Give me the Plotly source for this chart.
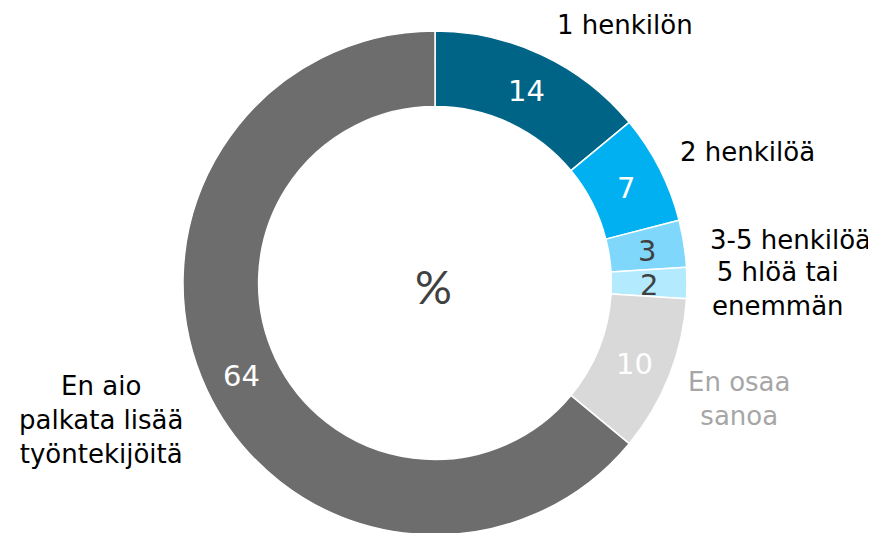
import math
import plotly.graph_objects as go

categories = ["1 henkilön", "2 henkilöä", "3-5 henkilöä", "5 hlöä tai<br>enemmän",
              "En osaa<br>sanoa", "En aio<br>palkata lisää<br>työntekijöitä"]
values = [14, 7, 3, 2, 10, 64]
colors = ["#006487", "#00B0F0", "#7FD8FC", "#B3EAFD", "#D9D9D9", "#6D6D6D"]
text_colors = ["white", "white", "#404040", "#404040", "white", "white"]
label_colors = ["black", "black", "black", "black", "#A6A6A6", "black"]
label_pos = [(625, 25), (747, 152), (790, 240), (778, 289), (739, 399), (101, 420)]

W, H = 876, 533
OFF = 8  # page body margin
CX, CY, R = 435 - OFF, 283 - OFF, 252
HOLE = 0.70

fig = go.Figure(go.Pie(
    labels=categories,
    values=values,
    hole=HOLE,
    sort=False,
    direction="clockwise",
    rotation=0,
    marker=dict(colors=colors, line=dict(color="white", width=1.5)),
    textinfo="none",
    domain=dict(x=[(CX - R) / W, (CX + R) / W], y=[(H - CY - R) / H, (H - CY + R) / H]),
    showlegend=False,
    hoverinfo="label+value",
))

annotations = []
# value labels at the middle of each ring segment
total = sum(values)
rmid = R * (1 + HOLE) / 2
cum = 0
for v, tc in zip(values, text_colors):
    ang = 2 * math.pi * (cum + v / 2) / total
    cum += v
    px = CX + rmid * math.sin(ang)
    py = CY - rmid * math.cos(ang) + 2
    annotations.append(dict(
        text=str(v), x=px / W, y=1 - py / H, xref="paper", yref="paper",
        showarrow=False, xanchor="center", yanchor="middle",
        font=dict(family="DejaVu Sans", size=29, color=tc),
    ))

for lab, (x, y), c in zip(categories, label_pos, label_colors):
    annotations.append(dict(
        text=lab, x=(x - OFF) / W, y=1 - (y - OFF) / H, xref="paper", yref="paper",
        showarrow=False, xanchor="center", yanchor="middle", align="center",
        font=dict(family="DejaVu Sans", size=26, color=c),
    ))
annotations.append(dict(
    text="%", x=(433 - OFF) / W, y=1 - (286 - OFF) / H, xref="paper", yref="paper",
    showarrow=False, xanchor="center", yanchor="middle",
    font=dict(family="Lato", size=46, color="#404040"),
))

fig.update_layout(
    width=W, height=H,
    margin=dict(l=0, r=0, t=0, b=0),
    paper_bgcolor="white", plot_bgcolor="white",
    annotations=annotations,
)

fig.write_html("out.html")
